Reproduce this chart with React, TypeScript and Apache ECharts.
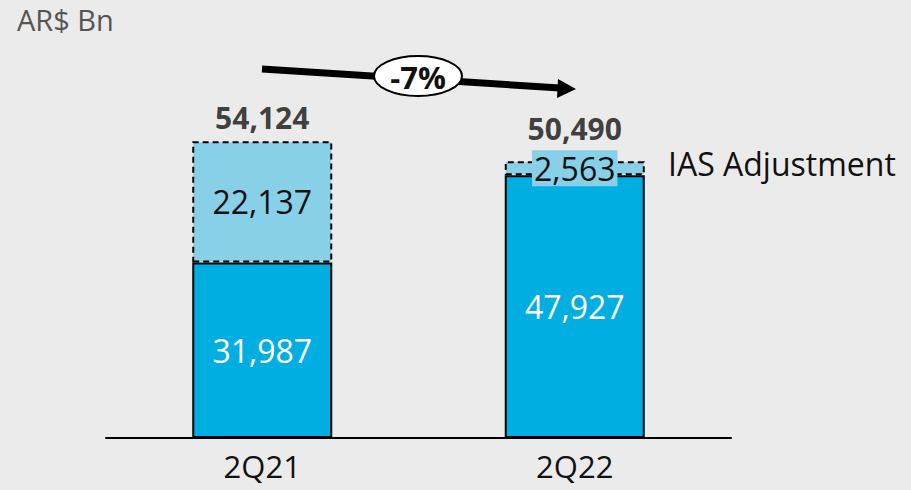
import React, { useEffect, useRef } from "react";
import * as echarts from "echarts";

const categories = ["2Q21", "2Q22"];
const baseValues = [31987, 47927];
const iasValues = [22137, 2563];
const totals = [54124, 50490];
const changeLabel = "-7%";
const unitLabel = "AR$ Bn";
const iasLabel = "IAS Adjustment";

const fmt = (v: number) => v.toLocaleString("en-US");
const FONT = "'Open Sans', 'Noto Sans', sans-serif";
const DARK = "#00aee2";
const LIGHT = "#87d0e8";

export default function App() {
  const ref = useRef<HTMLDivElement>(null);
  useEffect(() => {
    const chart = echarts.init(ref.current!, null, { renderer: "svg" });
    chart.setOption({
      animation: false,
      backgroundColor: "#ebebeb",
      textStyle: { fontFamily: FONT },
      grid: { left: 106, right: 180, top: 109, bottom: 52 },
      xAxis: {
        type: "category",
        data: categories,
        axisLine: { lineStyle: { color: "#000", width: 2 } },
        axisTick: { show: false },
        axisLabel: { color: "#111", fontSize: 31, margin: 12, fontFamily: FONT },
      },
      yAxis: {
        type: "value",
        min: 0,
        max: 60000,
        show: false,
        splitLine: { show: false },
      },
      series: [
        {
          type: "bar",
          stack: "s",
          barWidth: 140,
          data: baseValues,
          itemStyle: { color: DARK, borderColor: "#000", borderWidth: 2 },
          label: {
            show: true,
            position: "inside",
            color: "#fff",
            fontSize: 32,
            fontFamily: FONT,
            formatter: (p: any) => fmt(p.value),
          },
        },
        {
          type: "bar",
          stack: "s",
          barWidth: 140,
          data: iasValues.map((v, i) => ({
            value: v,
            label:
              i === 1
                ? {
                    backgroundColor: LIGHT,
                    padding: [1, 2, 1, 2],
                    lineHeight: 34,
                  }
                : {},
          })),
          itemStyle: {
            color: LIGHT,
            borderColor: "#000",
            borderWidth: 2,
            borderType: [6, 4],
          },
          label: {
            show: true,
            position: "inside",
            color: "#111",
            fontSize: 32,
            fontFamily: FONT,
            formatter: (p: any) => fmt(p.value),
          },
        },
        {
          type: "scatter",
          data: totals.map((v, i) => ({
            value: v,
            label: { distance: i === 0 ? 9 : 18 },
          })),
          symbolSize: 0,
          silent: true,
          label: {
            show: true,
            position: "top",
            color: "#111",
            fontSize: 30,
            fontWeight: "bold",
            fontFamily: FONT,
            lineHeight: 30,
            formatter: (p: any) => fmt(p.value),
          },
          z: 5,
        },
      ],
      graphic: [
        {
          type: "text",
          left: 17,
          top: 5,
          style: { text: unitLabel, fill: "#555", fontSize: 29, fontFamily: FONT },
        },
        {
          type: "text",
          left: 668,
          top: 147,
          style: { text: iasLabel, fill: "#111", fontSize: 32, fontFamily: FONT },
        },
        {
          type: "line",
          shape: { x1: 262, y1: 69, x2: 560, y2: 88 },
          style: { stroke: "#000", lineWidth: 7 },
          z: 10,
        },
        {
          type: "polygon",
          shape: { points: [[558, 79], [576, 89], [557, 98]] },
          style: { fill: "#000" },
          z: 10,
        },
        {
          type: "ellipse",
          shape: { cx: 418, cy: 76, rx: 44, ry: 20 },
          style: { fill: "#fff", stroke: "#000", lineWidth: 2 },
          z: 11,
        },
        {
          type: "text",
          x: 418,
          y: 77,
          style: {
            text: changeLabel,
            fill: "#111",
            fontSize: 31,
            fontWeight: "bold",
            fontFamily: FONT,
            align: "center",
            verticalAlign: "middle",
          },
          z: 12,
        },
      ],
    });
    return () => chart.dispose();
  }, []);
  return <div ref={ref} style={{ width: 911, height: 490, position: "absolute", left: 0, top: 0 }} />;
}
